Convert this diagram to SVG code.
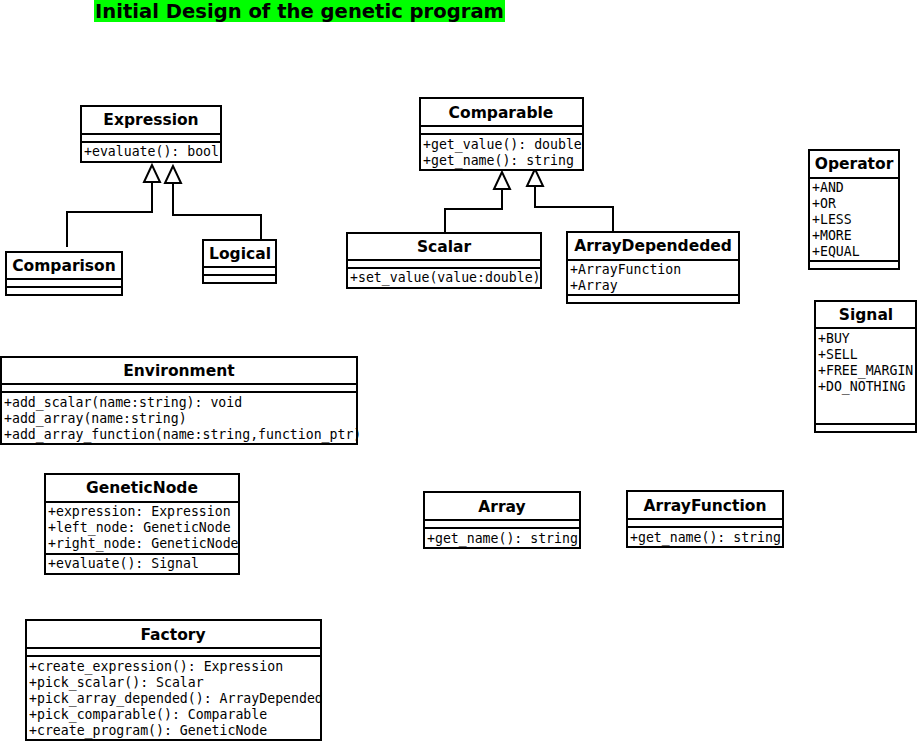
<svg xmlns="http://www.w3.org/2000/svg" width="918" height="741" viewBox="0 0 918 741">
<style>
.b{fill:#fff;stroke:#000;stroke-width:2}
.l{stroke:#000;stroke-width:2;fill:none}
.t{font-family:"DejaVu Sans",sans-serif;font-weight:bold;font-size:15.5px;text-anchor:middle}
.m{font-family:"DejaVu Sans Mono",monospace;font-size:13.2px}
.h{font-family:"DejaVu Sans",sans-serif;font-weight:bold;font-size:19px}
.tri{fill:#fff;stroke:#000;stroke-width:2}
</style>
<rect width="918" height="741" fill="#fff"/>
<g id="title"><rect x="94" y="0" width="411" height="22" fill="#00ff00"/><text class="h" x="95" y="18" textLength="409" lengthAdjust="spacingAndGlyphs">Initial Design of the genetic program</text></g>

<g id="connectors">
<path class="l" d="M67,247V212H152V182"/>
<polygon class="tri" points="152,165 144,182 160,182"/>
<path class="l" d="M261,240V215H173V183"/>
<polygon class="tri" points="173,166 165,183 181,183"/>
<path class="l" d="M445,233V209H502V189"/>
<polygon class="tri" points="502,172 494,189 510,189"/>
<path class="l" d="M613,232V207H535V186"/>
<polygon class="tri" points="535,169 527,186 543,186"/>
</g>

<g id="Expression">
<rect class="b" x="81" y="106" width="140" height="56"/>
<path class="l" d="M81,134H221M81,142H221"/>
<text class="t" x="151" y="125">Expression</text>
<text class="m" x="84" y="156">+evaluate(): bool</text>
</g>

<g id="Comparable">
<rect class="b" x="420" y="98" width="163" height="72"/>
<path class="l" d="M420,126H583M420,134H583"/>
<text class="t" x="501" y="118">Comparable</text>
<text class="m" x="423" y="149">+get_value(): double</text>
<text class="m" x="423" y="165">+get_name(): string</text>
</g>

<g id="Operator">
<rect class="b" x="809" y="150" width="90" height="119"/>
<path class="l" d="M809,178H899M809,261H899"/>
<text class="t" x="854" y="169">Operator</text>
<text class="m" x="812" y="192">+AND</text>
<text class="m" x="812" y="208">+OR</text>
<text class="m" x="812" y="224">+LESS</text>
<text class="m" x="812" y="240">+MORE</text>
<text class="m" x="812" y="256">+EQUAL</text>
</g>

<g id="Signal">
<rect class="b" x="815" y="301" width="101" height="131"/>
<path class="l" d="M815,328H916M815,424H916"/>
<text class="t" x="866" y="320">Signal</text>
<text class="m" x="818" y="343">+BUY</text>
<text class="m" x="818" y="359">+SELL</text>
<text class="m" x="818" y="375">+FREE_MARGIN</text>
<text class="m" x="818" y="391">+DO_NOTHING</text>
</g>

<g id="Comparison">
<rect class="b" x="6" y="252" width="116" height="43"/>
<path class="l" d="M6,279H122M6,287H122"/>
<text class="t" x="64" y="271">Comparison</text>
</g>

<g id="Logical">
<rect class="b" x="203" y="240" width="73" height="43"/>
<path class="l" d="M203,267H276M203,275H276"/>
<text class="t" x="240" y="259">Logical</text>
</g>

<g id="Scalar">
<rect class="b" x="347" y="233" width="194" height="55"/>
<path class="l" d="M347,260H541M347,268H541"/>
<text class="t" x="444" y="252">Scalar</text>
<text class="m" x="350" y="282">+set_value(value:double)</text>
</g>

<g id="ArrayDependeded">
<rect class="b" x="567" y="232" width="172" height="71"/>
<path class="l" d="M567,260H739M567,295H739"/>
<text class="t" x="653" y="251">ArrayDependeded</text>
<text class="m" x="570" y="274">+ArrayFunction</text>
<text class="m" x="570" y="290">+Array</text>
</g>

<g id="Environment">
<rect class="b" x="1" y="357" width="356" height="87"/>
<path class="l" d="M1,384H357M1,392H357"/>
<text class="t" x="179" y="376">Environment</text>
<text class="m" x="4" y="407">+add_scalar(name:string): void</text>
<text class="m" x="4" y="423">+add_array(name:string)</text>
<text class="m" x="4" y="439">+add_array_function(name:string,function_ptr)</text>
</g>

<g id="GeneticNode">
<rect class="b" x="45" y="474" width="194" height="100"/>
<path class="l" d="M45,502H239M45,554H239"/>
<text class="t" x="142" y="493">GeneticNode</text>
<text class="m" x="48" y="516">+expression: Expression</text>
<text class="m" x="48" y="532">+left_node: GeneticNode</text>
<text class="m" x="48" y="548">+right_node: GeneticNode</text>
<text class="m" x="48" y="568">+evaluate(): Signal</text>
</g>

<g id="Array">
<rect class="b" x="424" y="492" width="156" height="56"/>
<path class="l" d="M424,520H580M424,528H580"/>
<text class="t" x="502" y="512">Array</text>
<text class="m" x="427" y="543">+get_name(): string</text>
</g>

<g id="ArrayFunction">
<rect class="b" x="627" y="491" width="156" height="56"/>
<path class="l" d="M627,519H783M627,527H783"/>
<text class="t" x="705" y="511">ArrayFunction</text>
<text class="m" x="630" y="542">+get_name(): string</text>
</g>

<g id="Factory">
<rect class="b" x="26" y="620" width="295" height="120"/>
<path class="l" d="M26,648H321M26,656H321"/>
<text class="t" x="173" y="640">Factory</text>
<text class="m" x="29" y="671">+create_expression(): Expression</text>
<text class="m" x="29" y="687">+pick_scalar(): Scalar</text>
<text class="m" x="29" y="703">+pick_array_depended(): ArrayDepended</text>
<text class="m" x="29" y="719">+pick_comparable(): Comparable</text>
<text class="m" x="29" y="735">+create_program(): GeneticNode</text>
</g>
</svg>
